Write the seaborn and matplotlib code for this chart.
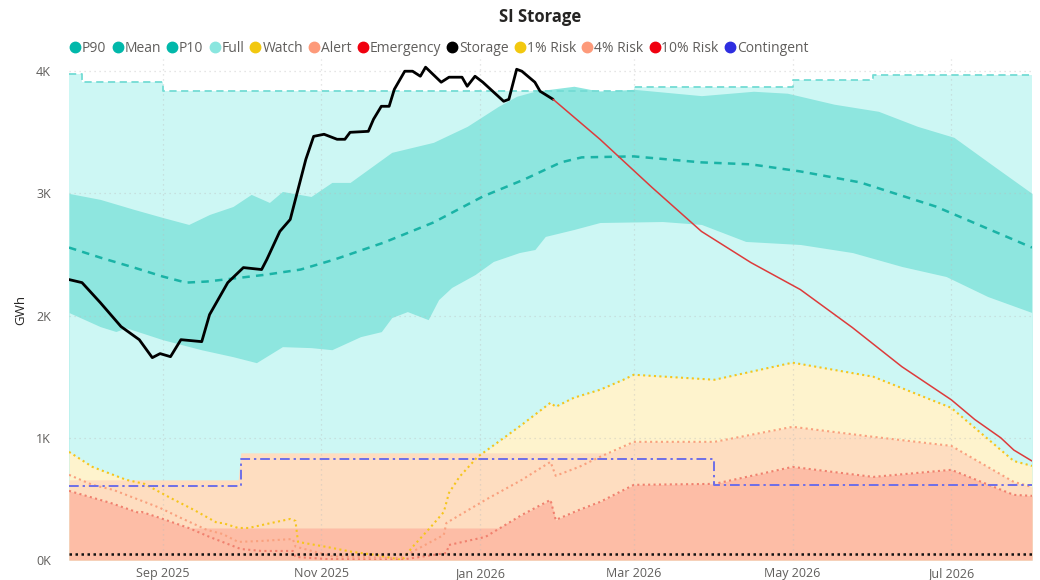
import matplotlib
matplotlib.use("Agg")
import numpy as np
import pandas as pd
import matplotlib.pyplot as plt
import matplotlib.dates as mdates
from matplotlib.lines import Line2D
from matplotlib.ticker import FuncFormatter
import seaborn as sns

# --- data (GWh) ---
storage_dates = ["2025-07-27", "2025-08-01", "2025-08-08", "2025-08-16", "2025-08-23", "2025-08-28",
                 "2025-08-31", "2025-09-04", "2025-09-08", "2025-09-16", "2025-09-19", "2025-09-26",
                 "2025-10-02", "2025-10-09", "2025-10-11", "2025-10-16", "2025-10-20", "2025-10-23",
                 "2025-10-26", "2025-10-29", "2025-11-02", "2025-11-07", "2025-11-10", "2025-11-12",
                 "2025-11-19", "2025-11-21", "2025-11-24", "2025-11-27", "2025-11-29", "2025-12-03",
                 "2025-12-06", "2025-12-09", "2025-12-11", "2025-12-17", "2025-12-20", "2025-12-25",
                 "2025-12-27", "2025-12-30", "2026-01-02", "2026-01-10", "2026-01-12", "2026-01-15",
                 "2026-01-17", "2026-01-22", "2026-01-24", "2026-01-29"]
storage_gwh = [2295, 2270, 2107, 1910, 1803, 1656, 1689, 1664, 1803, 1787,
               2008, 2270, 2393, 2377, 2459, 2689, 2787, 3033, 3279, 3467,
               3484, 3443, 3443, 3500, 3508, 3607, 3713, 3713, 3852, 4000,
               4000, 3959, 4033, 3910, 3951, 3951, 3877, 3959, 3910, 3754,
               3770, 4016, 4000, 3910, 3836, 3770]

proj_dates = ["2026-01-29", "2026-02-16", "2026-03-08", "2026-03-27", "2026-04-15", "2026-05-04",
              "2026-05-24", "2026-06-12", "2026-07-01", "2026-07-10", "2026-07-20", "2026-07-25",
              "2026-08-01"]
proj_gwh = [3770, 3443, 3049, 2689, 2434, 2213, 1902, 1582, 1311, 1150, 1000, 900, 810]

mean_dates = ["2025-07-27", "2025-08-08", "2025-08-21", "2025-09-01", "2025-09-10", "2025-09-18",
              "2025-09-28", "2025-10-11", "2025-10-24", "2025-11-06", "2025-11-25", "2025-12-14",
              "2026-01-02", "2026-01-18", "2026-02-01", "2026-02-09", "2026-03-01", "2026-03-27",
              "2026-04-15", "2026-05-04", "2026-05-27", "2026-06-25", "2026-08-01"]
mean_gwh = [2557, 2475, 2393, 2320, 2270, 2279, 2303, 2336, 2377, 2459, 2598, 2762,
            2975, 3115, 3254, 3295, 3303, 3254, 3238, 3180, 3090, 2893, 2557]

p90_dates = ["2025-07-27", "2025-08-08", "2025-08-21", "2025-09-01", "2025-09-11", "2025-09-19",
             "2025-09-28", "2025-10-05", "2025-10-12", "2025-10-17", "2025-10-28", "2025-11-05",
             "2025-11-12", "2025-11-28", "2025-12-14", "2025-12-27", "2026-01-08", "2026-01-15",
             "2026-01-22", "2026-02-06", "2026-02-16", "2026-03-01", "2026-03-27", "2026-04-16",
             "2026-04-29", "2026-05-17", "2026-06-03", "2026-06-18", "2026-07-02", "2026-07-18",
             "2026-08-01"]
p90_gwh = [3000, 2951, 2869, 2803, 2746, 2828, 2893, 2992, 2926, 3016,
           2975, 3090, 3090, 3336, 3418, 3549, 3713, 3795, 3836, 3877,
           3836, 3852, 3800, 3836, 3820, 3730, 3672, 3549, 3459, 3213, 3000]

p10_dates = ["2025-07-27", "2025-08-08", "2025-08-14", "2025-08-18", "2025-09-01", "2025-09-16",
             "2025-09-28", "2025-10-07", "2025-10-17", "2025-10-28", "2025-11-05", "2025-11-16",
             "2025-11-24", "2025-11-28", "2025-12-04", "2025-12-12", "2025-12-16", "2025-12-21",
             "2025-12-30", "2026-01-06", "2026-01-16", "2026-01-22", "2026-01-26", "2026-02-06",
             "2026-02-16", "2026-03-12", "2026-03-27", "2026-04-13", "2026-05-04", "2026-05-24",
             "2026-06-12", "2026-06-29", "2026-07-15", "2026-08-01"]
p10_gwh = [2025, 1910, 1870, 1900, 1803, 1720, 1664, 1615, 1746, 1738,
           1721, 1828, 1869, 1984, 2033, 1967, 2131, 2230, 2336, 2443,
           2516, 2541, 2648, 2705, 2762, 2770, 2746, 2607, 2582, 2516,
           2402, 2320, 2156, 2025]

full_dates = ["2025-07-27", "2025-08-01", "2025-09-01", "2026-03-01", "2026-05-01", "2026-06-01",
              "2026-08-01"]
full_gwh = [3975, 3910, 3836, 3870, 3930, 3967, 3967]

risk1_dates = ["2025-07-27", "2025-08-05", "2025-08-18", "2025-08-25", "2025-09-04", "2025-09-13",
               "2025-09-22", "2025-09-24", "2025-09-30", "2025-10-04", "2025-10-11", "2025-10-20",
               "2025-10-22", "2025-10-23", "2025-11-03", "2025-11-13", "2025-11-22", "2025-12-02",
               "2025-12-06", "2025-12-13", "2025-12-18", "2025-12-20", "2025-12-24", "2025-12-31",
               "2026-01-08", "2026-01-17", "2026-01-28", "2026-01-30", "2026-02-06", "2026-02-16",
               "2026-02-25", "2026-03-01", "2026-04-01", "2026-05-01", "2026-06-01", "2026-07-01",
               "2026-07-25", "2026-08-01"]
risk1_gwh = [885, 762, 656, 623, 508, 410, 303, 303, 262, 262,
             295, 336, 320, 148, 107, 66, 41, 0, 107, 270,
             393, 549, 680, 844, 967, 1107, 1287, 1254, 1328, 1393,
             1475, 1516, 1475, 1615, 1500, 1245, 810, 770]

risk4_dates = ["2025-07-27", "2025-08-05", "2025-08-13", "2025-08-21", "2025-08-24", "2025-08-31",
               "2025-09-08", "2025-09-18", "2025-09-24", "2025-09-30", "2025-10-09", "2025-10-21",
               "2025-10-22", "2025-11-05", "2025-12-01", "2025-12-05", "2025-12-18", "2025-12-19",
               "2026-01-03", "2026-01-17", "2026-01-28", "2026-01-30", "2026-02-08", "2026-02-16",
               "2026-03-01", "2026-04-01", "2026-05-01", "2026-06-01", "2026-07-01", "2026-07-25",
               "2026-08-01"]
risk4_gwh = [697, 615, 574, 508, 484, 426, 344, 246, 213, 148,
             156, 172, 110, 30, 15, 57, 205, 303, 492, 656,
             803, 689, 762, 844, 967, 967, 1090, 1008, 934, 639, 598]

risk10_dates = ["2025-07-27", "2025-08-12", "2025-08-23", "2025-08-24", "2025-08-31", "2025-09-11",
                "2025-09-19", "2025-10-01", "2025-10-09", "2025-10-21", "2025-10-22", "2025-11-03",
                "2025-12-01", "2025-12-19", "2025-12-20", "2026-01-03", "2026-01-17", "2026-01-28",
                "2026-01-30", "2026-02-08", "2026-02-16", "2026-03-01", "2026-04-01", "2026-05-01",
                "2026-06-01", "2026-07-01", "2026-07-25", "2026-08-01"]
risk10_gwh = [566, 467, 385, 393, 344, 262, 189, 90, 74, 74,
              25, 8, 0, 57, 123, 189, 369, 492, 328, 410,
              475, 615, 623, 762, 680, 738, 533, 525]

alert_dates = ["2025-07-27", "2025-09-30", "2025-10-01", "2026-02-20", "2026-03-01", "2026-04-01",
               "2026-05-01", "2026-06-01", "2026-07-01", "2026-07-25", "2026-08-01"]
alert_gwh = [656, 656, 877, 877, 967, 967, 1090, 1008, 934, 639, 598]

emerg_dates = ["2025-07-27", "2025-08-12", "2025-08-23", "2025-08-24", "2025-08-31", "2025-09-11",
               "2026-01-08", "2026-01-17", "2026-01-28", "2026-01-30", "2026-02-08", "2026-02-16",
               "2026-03-01", "2026-04-01", "2026-05-01", "2026-06-01", "2026-07-01", "2026-07-25",
               "2026-08-01"]
emerg_gwh = [566, 467, 385, 393, 344, 262, 262, 369, 492, 328,
             410, 475, 615, 623, 762, 680, 738, 533, 525]

contingent_dates = ["2025-07-27", "2025-10-01", "2026-04-01", "2026-08-01"]
contingent_gwh = [609, 830, 613, 613]

floor_dates = ["2025-07-27", "2026-08-01"]
floor_gwh = [50, 50]

legend_labels = ["P90", "Mean", "P10", "Full", "Watch", "Alert", "Emergency",
                 "Storage", "1% Risk", "4% Risk", "10% Risk", "Contingent"]
legend_colors = ["#01B8AA", "#01B8AA", "#01B8AA", "#8AE6DF", "#F2C80F", "#FD9A7A",
                 "#F0000F", "#000000", "#F2C80F", "#FD9A7A", "#F0000F", "#2E2EE0"]

# --- colours ---
FULL_FILL = "#CDF7F4"
BAND_FILL = "#8EE6DF"
WATCH_FILL = "#FEF3CD"
ALERT_FILL = "#FEDDC0"
EMERG_FILL = "#FDBDA6"


def d(values):
    return pd.to_datetime(values)


sns.set_theme(style="white")
plt.rcParams['font.family'] = ['Open Sans', 'DejaVu Sans']

fig = plt.figure(figsize=(10.4, 5.8), dpi=100)
ax = fig.add_axes([69 / 1040, 20 / 580, 963 / 1040, 501 / 580])

# overlapping areas, drawn back to front
ax.fill_between(d(full_dates), 0, full_gwh, step="post", color=FULL_FILL, lw=0, zorder=0.1)
ax.fill_between(d(p90_dates), 0, p90_gwh, color=BAND_FILL, lw=0, zorder=0.15)
ax.fill_between(d(p10_dates), 0, p10_gwh, color=FULL_FILL, lw=0, zorder=0.2)
ax.fill_between(d(risk1_dates), 0, risk1_gwh, color=WATCH_FILL, lw=0, zorder=0.25)
ax.fill_between(d(alert_dates), 0, alert_gwh, color=ALERT_FILL, lw=0, zorder=0.3)
ax.fill_between(d(emerg_dates), 0, emerg_gwh, color=EMERG_FILL, lw=0, zorder=0.35)

# lines
ax.plot(d(full_dates), full_gwh, drawstyle="steps-post", color="#74DCD4",
        lw=1.3, linestyle=(0, (4, 2.5)), zorder=3)
sns.lineplot(x=d(mean_dates), y=mean_gwh, ax=ax, color="#1AB3A6", lw=1.8,
             linestyle=(0, (3, 2.5)), zorder=3)
sns.lineplot(x=d(risk1_dates), y=risk1_gwh, ax=ax, color="#F5C51C", lw=1.5,
             linestyle=(0, (1, 1.6)), zorder=4)
sns.lineplot(x=d(risk4_dates), y=risk4_gwh, ax=ax, color="#F9A07E", lw=1.5,
             linestyle=(0, (1, 1.6)), zorder=4)
sns.lineplot(x=d(risk10_dates), y=risk10_gwh, ax=ax, color="#F0806E", lw=1.5,
             linestyle=(0, (1, 1.6)), zorder=4)
ax.plot(d(contingent_dates), contingent_gwh, drawstyle="steps-post", color="#6E6EE8",
        lw=1.4, linestyle=(0, (5, 2, 1.2, 2)), zorder=5)
sns.lineplot(x=d(floor_dates), y=floor_gwh, ax=ax, color="#111111", lw=1.8,
             linestyle=(0, (1, 1.4)), zorder=5)
sns.lineplot(x=d(storage_dates), y=storage_gwh, ax=ax, color="#000000", lw=2.0, zorder=6)
sns.lineplot(x=d(proj_dates), y=proj_gwh, ax=ax, color="#DD3B3B", lw=1.1, zorder=6)

# axes
ax.set_xlim(pd.Timestamp("2025-07-27"), pd.Timestamp("2026-08-01"))
ax.set_ylim(0, 4100)
ax.set_yticks([0, 1000, 2000, 3000, 4000])
ax.yaxis.set_major_formatter(FuncFormatter(lambda v, p: f"{int(v / 1000)}K"))
ax.xaxis.set_major_locator(mdates.MonthLocator(bymonth=[1, 3, 5, 7, 9, 11]))
ax.xaxis.set_major_formatter(mdates.DateFormatter("%b %Y"))
ax.tick_params(axis="both", length=0, labelsize=9, colors="#605E5C")
ax.tick_params(axis="x", pad=5)
ax.tick_params(axis="y", pad=13)
ax.set_xlabel("")
ax.set_ylabel("GWh", fontsize=9.5, color="#252423", labelpad=6)
ax.grid(True, color="#BBBBBB", linestyle=(0, (1, 3)), lw=0.9, alpha=0.5)
ax.set_axisbelow(True)
for s in ax.spines.values():
    s.set_visible(False)

fig.text(0.519, 1 - 17 / 580, "SI Storage", ha="center", va="center",
         fontsize=12, fontweight="bold", color="#252423")

handles = [Line2D([], [], marker="o", linestyle="", markersize=7.5,
                  markerfacecolor=c, markeredgecolor=c) for c in legend_colors]
fig.legend(handles, legend_labels, loc="center left", bbox_to_anchor=(64 / 1040, 1 - 48 / 580),
           ncol=12, frameon=False, fontsize=10, handlelength=0.8, handletextpad=0.1,
           columnspacing=0.4, labelcolor="#605E5C", borderaxespad=0)

fig.savefig("out.png", dpi=100)
